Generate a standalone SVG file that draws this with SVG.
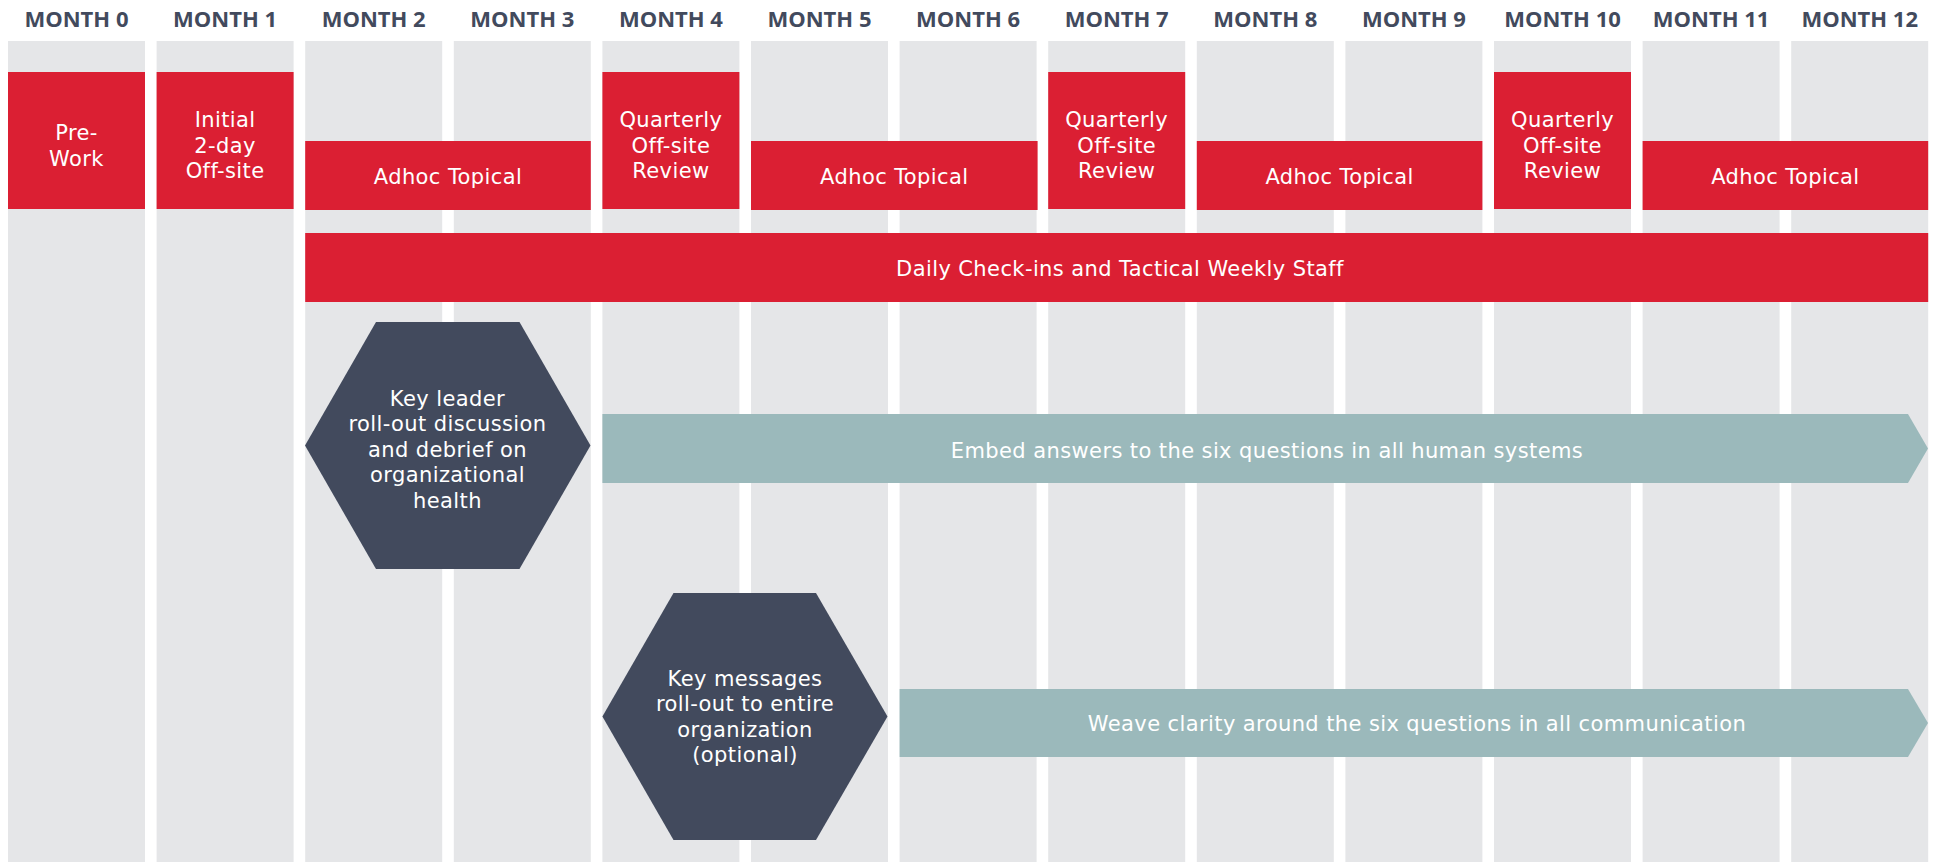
<svg xmlns="http://www.w3.org/2000/svg" width="1933" height="862" viewBox="0 0 1933 862">
<style>
.col{fill:#e5e6e8}
.red{fill:#db1f33}
.hex{fill:#424a5d}
.teal{fill:#9bb9bb}
.mon{font-family:"Open Sans","Liberation Sans",sans-serif;font-weight:700;font-size:22px;fill:#424a5d;text-anchor:middle}
.lbl{font-family:"DejaVu Sans","Open Sans",sans-serif;font-size:21px;letter-spacing:0.4px;fill:#ffffff;text-anchor:middle}
</style>
<rect width="1933" height="862" fill="#ffffff"/>
<g id="columns">
<rect class="col" x="8" y="41" width="137" height="821"/>
<rect class="col" x="156.6" y="41" width="137" height="821"/>
<rect class="col" x="305.2" y="41" width="137" height="821"/>
<rect class="col" x="453.8" y="41" width="137" height="821"/>
<rect class="col" x="602.4" y="41" width="137" height="821"/>
<rect class="col" x="751" y="41" width="137" height="821"/>
<rect class="col" x="899.6" y="41" width="137" height="821"/>
<rect class="col" x="1048.2" y="41" width="137" height="821"/>
<rect class="col" x="1196.8" y="41" width="137" height="821"/>
<rect class="col" x="1345.4" y="41" width="137" height="821"/>
<rect class="col" x="1494" y="41" width="137" height="821"/>
<rect class="col" x="1642.6" y="41" width="137" height="821"/>
<rect class="col" x="1791.2" y="41" width="137" height="821"/>
</g>
<g id="months">
<text class="mon" x="76.5" y="27">MONTH 0</text>
<text class="mon" x="225.1" y="27">MONTH 1</text>
<text class="mon" x="373.7" y="27">MONTH 2</text>
<text class="mon" x="522.3" y="27">MONTH 3</text>
<text class="mon" x="670.9" y="27">MONTH 4</text>
<text class="mon" x="819.5" y="27">MONTH 5</text>
<text class="mon" x="968.1" y="27">MONTH 6</text>
<text class="mon" x="1116.7" y="27">MONTH 7</text>
<text class="mon" x="1265.3" y="27">MONTH 8</text>
<text class="mon" x="1413.9" y="27">MONTH 9</text>
<text class="mon" x="1562.5" y="27">MONTH 10</text>
<text class="mon" x="1711.1" y="27">MONTH 11</text>
<text class="mon" x="1859.7" y="27">MONTH 12</text>
</g>
<g id="prework">
<rect class="red" x="8" y="72" width="137" height="137"/>
<text class="lbl" x="76.5" y="140">Pre-</text>
<text class="lbl" x="76.5" y="166">Work</text>
</g>
<g id="initial-offsite">
<rect class="red" x="156.6" y="72" width="137" height="137"/>
<text class="lbl" x="225.1" y="127">Initial</text>
<text class="lbl" x="225.1" y="152.5">2-day</text>
<text class="lbl" x="225.1" y="178">Off-site</text>
</g>
<g id="adhoc-1">
<rect class="red" x="305.2" y="141" width="285.6" height="69"/>
<text class="lbl" x="448" y="184">Adhoc Topical</text>
</g>
<g id="quarterly-1">
<rect class="red" x="602.4" y="72" width="137" height="137"/>
<text class="lbl" x="670.9" y="127">Quarterly</text>
<text class="lbl" x="670.9" y="152.5">Off-site</text>
<text class="lbl" x="670.9" y="178">Review</text>
</g>
<g id="adhoc-2">
<rect class="red" x="751" y="141" width="286.6" height="69"/>
<text class="lbl" x="894.3" y="184">Adhoc Topical</text>
</g>
<g id="quarterly-2">
<rect class="red" x="1048.2" y="72" width="137" height="137"/>
<text class="lbl" x="1116.7" y="127">Quarterly</text>
<text class="lbl" x="1116.7" y="152.5">Off-site</text>
<text class="lbl" x="1116.7" y="178">Review</text>
</g>
<g id="adhoc-3">
<rect class="red" x="1196.8" y="141" width="285.6" height="69"/>
<text class="lbl" x="1339.6" y="184">Adhoc Topical</text>
</g>
<g id="quarterly-3">
<rect class="red" x="1494" y="72" width="137" height="137"/>
<text class="lbl" x="1562.5" y="127">Quarterly</text>
<text class="lbl" x="1562.5" y="152.5">Off-site</text>
<text class="lbl" x="1562.5" y="178">Review</text>
</g>
<g id="adhoc-4">
<rect class="red" x="1642.6" y="141" width="285.6" height="69"/>
<text class="lbl" x="1785.4" y="184">Adhoc Topical</text>
</g>
<g id="daily">
<rect class="red" x="305.2" y="233" width="1623" height="69"/>
<text class="lbl" x="1120" y="276">Daily Check-ins and Tactical Weekly Staff</text>
</g>
<g id="key-leader">
<polygon class="hex" points="305,445.5 376,322 519.5,322 590.5,445.5 519.5,569 376,569"/>
<text class="lbl" x="447.5" y="406">Key leader</text>
<text class="lbl" x="447.5" y="431">roll-out discussion</text>
<text class="lbl" x="447.5" y="456.5">and debrief on</text>
<text class="lbl" x="447.5" y="482">organizational</text>
<text class="lbl" x="447.5" y="507.5">health</text>
</g>
<g id="embed">
<polygon class="teal" points="602.4,414 1908,414 1928,448.5 1908,483 602.4,483"/>
<text class="lbl" x="1267" y="458">Embed answers to the six questions in all human systems</text>
</g>
<g id="key-messages">
<polygon class="hex" points="602.4,716.5 673.5,593 816,593 887.5,716.5 816,840 673.5,840"/>
<text class="lbl" x="745" y="686">Key messages</text>
<text class="lbl" x="745" y="711">roll-out to entire</text>
<text class="lbl" x="745" y="736.5">organization</text>
<text class="lbl" x="745" y="762">(optional)</text>
</g>
<g id="weave">
<polygon class="teal" points="899.6,689 1908,689 1928,723 1908,757 899.6,757"/>
<text class="lbl" x="1417" y="731">Weave clarity around the six questions in all communication</text>
</g>
<g id="connectors"/>
</svg>
